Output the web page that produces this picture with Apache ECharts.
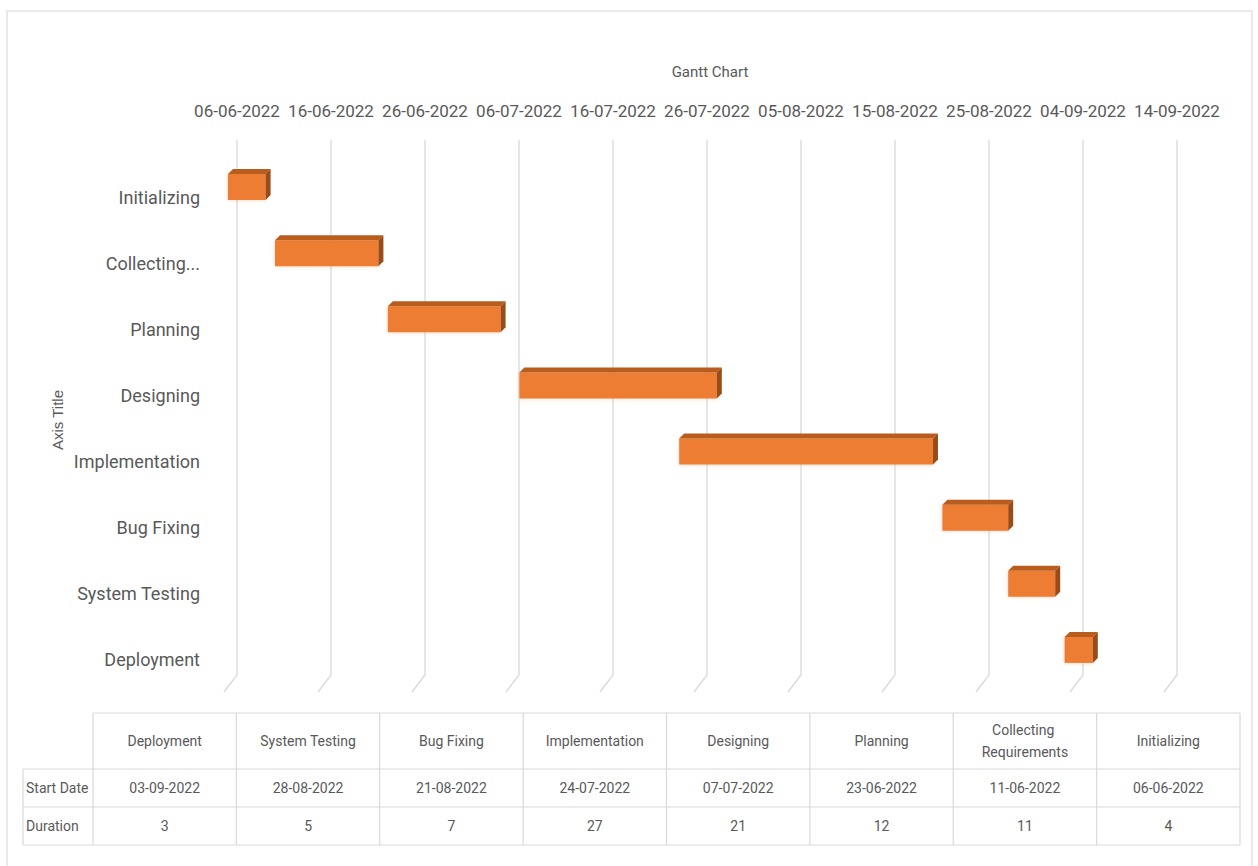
<!DOCTYPE html>
<html>
<head>
<meta charset="utf-8">
<script src="https://cdn.jsdelivr.net/npm/echarts@6/dist/echarts.min.js"></script>
<style>
html,body{margin:0;padding:0;background:#fff;}
#chart{width:1258px;height:866px;}
</style>
</head>
<body>
<div id="chart"></div>
<script>
// ---- data ----
var categories = ['Initializing', 'Collecting Requirements', 'Planning', 'Designing', 'Implementation', 'Bug Fixing', 'System Testing', 'Deployment'];
var startDates = ['06-06-2022', '11-06-2022', '23-06-2022', '07-07-2022', '24-07-2022', '21-08-2022', '28-08-2022', '03-09-2022'];
var durations = [4, 11, 12, 21, 27, 7, 5, 3];
var axisStartDate = '06-06-2022';
var axisEndDate = '14-09-2022';
var tickStepDays = 10;
var tableRowLabels = ['Start Date', 'Duration'];
var chartTitle = 'Gantt Chart';
var yAxisTitle = 'Axis Title';

// ---- helpers ----
var DAY = 86400000;
function parseDMY(s) { var p = s.split('-'); return Date.UTC(+p[2], +p[1] - 1, +p[0]); }
function fmtDMY(t) {
  var d = new Date(t);
  function z(n) { return (n < 10 ? '0' : '') + n; }
  return z(d.getUTCDate()) + '-' + z(d.getUTCMonth() + 1) + '-' + d.getUTCFullYear();
}
var t0 = parseDMY(axisStartDate);
var axisMaxDays = Math.round((parseDMY(axisEndDate) - t0) / DAY);
var startDays = startDates.map(function (s) { return Math.round((parseDMY(s) - t0) / DAY); });
var barData = categories.map(function (c, i) { return [i, startDays[i], durations[i]]; });
var tickValues = [];
for (var v = 0; v <= axisMaxDays; v += tickStepDays) tickValues.push([v]);

var FONT = "Roboto, 'Noto Sans', sans-serif";
var TXT = '#595959';
var LINE = '#d9d9d9';

// ---- table (built from the same arrays, reversed order) ----
var tblLeft = 23, tblHeadLeft = 93, tblRight = 1240;
var rowY = [713, 769, 807, 845];
var order = categories.map(function (c, i) { return i; }).reverse();
var colW = (tblRight - tblHeadLeft) / order.length;
var tableEls = [];
function hline(x1, x2, y) { tableEls.push({ type: 'line', shape: { x1: x1, y1: y, x2: x2, y2: y }, style: { stroke: LINE, lineWidth: 1.2 }, silent: true }); }
function vline(x, y1, y2) { tableEls.push({ type: 'line', shape: { x1: x, y1: y1, x2: x, y2: y2 }, style: { stroke: LINE, lineWidth: 1.2 }, silent: true }); }
hline(tblHeadLeft, tblRight, rowY[0]);
hline(tblLeft, tblRight, rowY[1]);
hline(tblLeft, tblRight, rowY[2]);
hline(tblLeft, tblRight, rowY[3]);
vline(tblLeft, rowY[1], rowY[3]);
for (var k = 0; k <= order.length; k++) vline(tblHeadLeft + k * colW, rowY[0], rowY[3]);
function cellText(txt, cx, cy, align, width) {
  var st = { text: txt, x: cx, y: cy, fill: TXT, font: '14px ' + FONT, align: align || 'center', verticalAlign: 'middle', lineHeight: 22 };
  if (width) { st.width = width; st.overflow = 'break'; }
  tableEls.push({ type: 'text', style: st, silent: true });
}
order.forEach(function (ci, k) {
  var cx = tblHeadLeft + (k + 0.5) * colW;
  cellText(categories[ci], cx, (rowY[0] + rowY[1]) / 2, 'center', colW - 40);
  cellText(startDates[ci], cx, (rowY[1] + rowY[2]) / 2);
  cellText(String(durations[ci]), cx, (rowY[2] + rowY[3]) / 2);
});
cellText(tableRowLabels[0], tblLeft + 3, (rowY[1] + rowY[2]) / 2, 'left');
cellText(tableRowLabels[1], tblLeft + 3, (rowY[2] + rowY[3]) / 2, 'left');

var chart = echarts.init(document.getElementById('chart'), null, { renderer: 'svg', width: 1258, height: 866 });

var option = {
  animation: false,
  backgroundColor: '#ffffff',
  title: {
    text: chartTitle,
    left: 705,
    top: 59,
    textAlign: 'center',
    textStyle: { fontFamily: FONT, fontSize: 15, fontWeight: 'normal', color: TXT }
  },
  grid: { left: 237, right: 81, top: 164, height: 529 },
  xAxis: {
    type: 'value',
    position: 'top',
    min: 0,
    max: axisMaxDays,
    interval: tickStepDays,
    axisLine: { show: false },
    axisTick: { show: false },
    splitLine: { show: false },
    axisLabel: {
      margin: 45,
      showMinLabel: true,
      showMaxLabel: true,
      hideOverlap: false,
      color: TXT,
      fontFamily: FONT,
      fontSize: 17,
      formatter: function (v) { return fmtDMY(t0 + v * DAY); }
    }
  },
  yAxis: {
    type: 'category',
    inverse: true,
    data: categories,
    axisLine: { show: false },
    axisTick: { show: false },
    axisLabel: {
      margin: 37,
      color: TXT,
      fontFamily: FONT,
      fontSize: 18,
      formatter: function (s) { return s.length > 15 ? s.split(' ')[0] + '...' : s; }
    }
  },
  series: [
    {
      type: 'custom',
      name: 'grid3d',
      silent: true,
      z: 1,
      encode: { x: 0 },
      data: tickValues,
      renderItem: function (params, api) {
        var x = api.coord([api.value(0), 0])[0];
        var cs = params.coordSys;
        return {
          type: 'polyline',
          shape: { points: [[x, cs.y - 24], [x, cs.y + cs.height - 18], [x - 13, cs.y + cs.height - 1]] },
          style: { stroke: LINE, lineWidth: 1.3, fill: null }
        };
      }
    },
    {
      type: 'custom',
      name: 'Duration',
      z: 3,
      encode: { x: [1, 2], y: 0 },
      data: barData,
      renderItem: function (params, api) {
        var cat = api.value(0), s = api.value(1), d = api.value(2);
        var p0 = api.coord([s, cat]);
        var p1 = api.coord([s + d, cat]);
        var ox = -9, h = 26, dep = 5;
        var x0 = p0[0] + ox, x1 = p1[0] + ox;
        var yb = p0[1] + 3, yt = yb - h;
        return {
          type: 'group',
          children: [
            { type: 'rect', shape: { x: x0, y: yt, width: x1 - x0, height: h },
              style: { fill: '#ED7D31', shadowBlur: 4, shadowColor: 'rgba(237,125,49,0.35)' } },
            { type: 'polygon', shape: { points: [[x0, yt], [x0 + dep, yt - dep], [x1 + dep, yt - dep], [x1, yt]] },
              style: { fill: '#B95D1F' } },
            { type: 'polygon', shape: { points: [[x1, yt], [x1 + dep, yt - dep], [x1 + dep, yb - dep], [x1, yb]] },
              style: { fill: '#9A4C18' } }
          ]
        };
      }
    }
  ],
  graphic: [
    { type: 'rect', shape: { x: 7, y: 11, width: 1245, height: 870 }, style: { fill: null, stroke: '#e3e3e3', lineWidth: 1.5 }, silent: true, z: -10 },
    { type: 'text', x: 57, y: 420, rotation: Math.PI / 2,
      style: { text: yAxisTitle, fill: TXT, font: "15px 'Liberation Sans', sans-serif", align: 'center', verticalAlign: 'middle' }, silent: true },
    { type: 'group', children: tableEls }
  ]
};
chart.setOption(option);
</script>
</body>
</html>
